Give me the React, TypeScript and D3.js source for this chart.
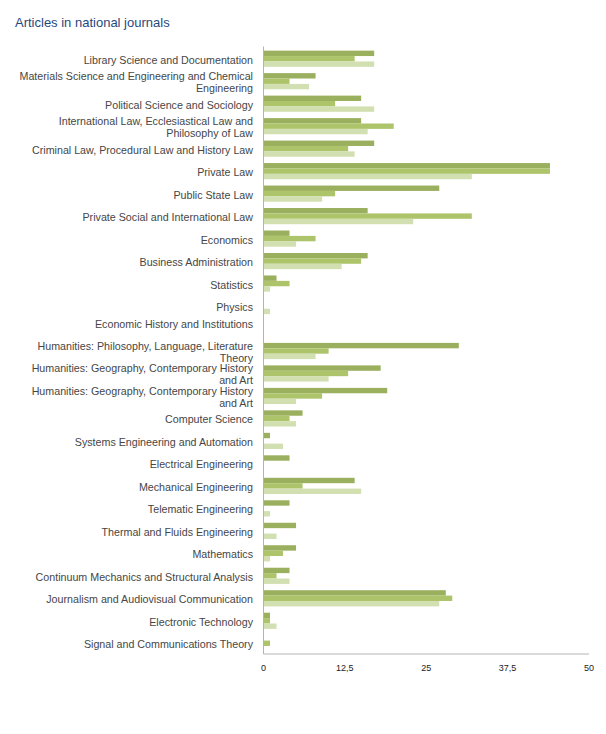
import React from "react";
import * as d3 from "d3";

const title = "Articles in national journals";

const categories: string[] = [
  "Library Science and Documentation",
  "Materials Science and Engineering and Chemical\nEngineering",
  "Political Science and Sociology",
  "International Law, Ecclesiastical Law and\nPhilosophy of Law",
  "Criminal Law, Procedural Law and History Law",
  "Private Law",
  "Public State Law",
  "Private Social and International Law",
  "Economics",
  "Business Administration",
  "Statistics",
  "Physics",
  "Economic History and Institutions\n",
  "Humanities: Philosophy, Language, Literature\nTheory",
  "Humanities: Geography, Contemporary History\nand Art",
  "Humanities: Geography, Contemporary History\nand Art",
  "Computer Science",
  "Systems Engineering and Automation",
  "Electrical Engineering",
  "Mechanical Engineering",
  "Telematic Engineering",
  "Thermal and Fluids Engineering",
  "Mathematics",
  "Continuum Mechanics and Structural Analysis",
  "Journalism and Audiovisual Communication",
  "Electronic Technology",
  "Signal and Communications Theory",
];

const series1 = [17, 8, 15, 15, 17, 44, 27, 16, 4, 16, 2, 0, 0, 30, 18, 19, 6, 1, 4, 14, 4, 5, 5, 4, 28, 1, 0];
const series2 = [14, 4, 11, 20, 13, 44, 11, 32, 8, 15, 4, 0, 0, 10, 13, 9, 4, 0, 0, 6, 0, 0, 3, 2, 29, 1, 1];
const series3 = [17, 7, 17, 16, 14, 32, 9, 23, 5, 12, 1, 1, 0, 8, 10, 5, 5, 3, 0, 15, 1, 2, 1, 4, 27, 2, 0];

const xTicks = [0, 12.5, 25, 37.5, 50];
const seriesColors = ["#9bb05e", "#adc46b", "#d2dfb0"];

export default function App() {
  const W = 606;
  const H = 734;
  const x = d3.scaleLinear().domain([0, 50]).range([263.5, 589]);
  const idx = categories.map((_, i) => i);
  const y = d3
    .scaleBand<number>()
    .domain(idx)
    .range([47.5, 654.5])
    .paddingInner(0.28)
    .paddingOuter(0.14);
  const allSeries = [series1, series2, series3];
  const sub = d3
    .scaleBand<number>()
    .domain([0, 1, 2])
    .range([0, y.bandwidth()]);
  const fmt = (v: number) => String(v).replace(".", ",");
  const lineH = 12;
  const labelX = 253;

  return (
    <svg
      width={W}
      height={H}
      style={{ position: "absolute", left: 0, top: 0, background: "#fff" }}
      fontFamily="'Liberation Sans', Arial, sans-serif"
    >
      <text x={15} y={27} fontSize={13} fill="#1f497d">
        {title}
      </text>
      {allSeries.map((s, si) =>
        s.map((v, i) =>
          v > 0 ? (
            <rect
              key={`b${si}-${i}`}
              x={x(0)}
              y={(y(i) as number) + (sub(si) as number)}
              width={x(v) - x(0)}
              height={sub.bandwidth()}
              fill={seriesColors[si]}
            />
          ) : null
        )
      )}
      {categories.map((c, i) => {
        const lines = c.split("\n");
        const cy = (y(i) as number) + y.bandwidth() / 2 + 1;
        const start = cy - ((lines.length - 1) * lineH) / 2;
        return (
          <text
            key={`l${i}`}
            x={labelX}
            textAnchor="end"
            fontSize={10.7}
            fill="#464646"
            dominantBaseline="central"
          >
            {lines.map((ln, k) => (
              <tspan key={k} x={labelX} y={start + k * lineH}>
                {ln}
              </tspan>
            ))}
          </text>
        );
      })}
      <line x1={x(0)} x2={x(0)} y1={46.5} y2={654} stroke="#b4b4b4" strokeWidth={1} />
      <line x1={x(0)} x2={x(50)} y1={654} y2={654} stroke="#b4b4b4" strokeWidth={1} />
      {xTicks.map((t) => (
        <text
          key={`t${t}`}
          x={x(t)}
          y={670.5}
          fontSize={9}
          textAnchor="middle"
          fill="#222"
        >
          {fmt(t)}
        </text>
      ))}
    </svg>
  );
}
